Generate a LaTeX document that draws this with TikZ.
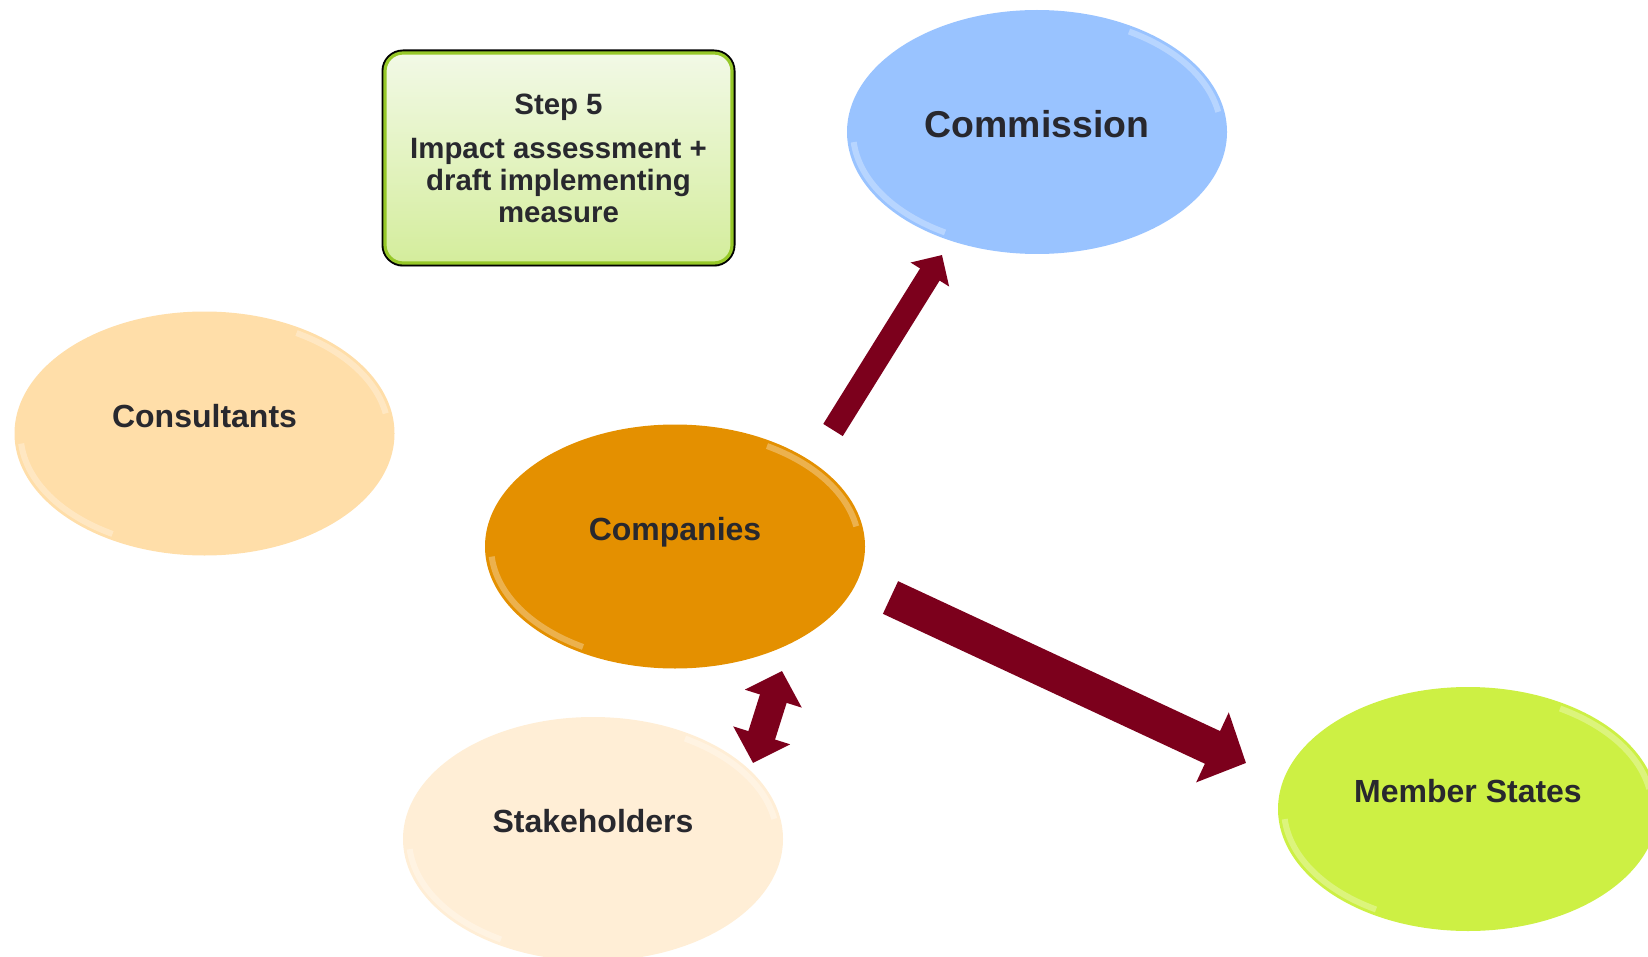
\documentclass[tikz,border=0pt]{standalone}
\usepackage{fontspec}
\setmainfont{Liberation Sans}
\usepackage{tikz}
\usetikzlibrary{shapes.geometric,arrows.meta,shadows,calc}
\definecolor{arrowred}{RGB}{124,0,28}
\definecolor{txtgray}{RGB}{40,40,46}
\definecolor{consfill}{RGB}{255,222,169}
\definecolor{compfill}{RGB}{228,144,0}
\definecolor{commfill}{RGB}{153,195,255}
\definecolor{stakefill}{RGB}{255,238,214}
\definecolor{msfill}{RGB}{205,240,68}
\definecolor{steptop}{RGB}{242,249,230}
\definecolor{stepbot}{RGB}{212,237,156}
\definecolor{steprim}{RGB}{150,200,40}
\tikzset{myellipse/.style={ellipse,fill=#1,minimum width=190pt,minimum height=122pt,inner sep=0pt,
path picture={
\draw[white,opacity=.3,line width=3pt] ($(path picture bounding box.center)+(185:92pt and 58pt)$) arc[start angle=185,end angle=240,x radius=92pt,y radius=58pt];
\draw[white,opacity=.3,line width=3pt] ($(path picture bounding box.center)+(10:92pt and 58pt)$) arc[start angle=10,end angle=60,x radius=92pt,y radius=58pt];}},
mylabel/.style={font=\fontsize{16}{19}\selectfont\bfseries,text=txtgray,text height=11.6pt,text depth=0pt,yshift=9pt},
mystep/.style={rectangle,rounded corners=9pt,minimum width=173.5pt,minimum height=105pt,
drop shadow={shadow xshift=0pt,shadow yshift=-2pt,opacity=.3},preaction={draw=black,line width=3.5pt},
top color=steptop,bottom color=stepbot,draw=steprim,line width=1.6pt,
align=center,font=\fontsize{14.7}{16}\selectfont\bfseries,text=txtgray},
myarrow/.style={draw=arrowred,line width=#1}}

\begin{document}
\begin{tikzpicture}[x=0.5pt,y=-0.5pt]
\useasboundingbox (0,0) rectangle (1648,957);
\node[myellipse=consfill,label={[mylabel]center:Consultants}] (cons) at (204.5,433.5) {};
\node[myellipse=compfill,label={[mylabel]center:Companies}] (comp) at (675,546.5) {};
\node[myellipse=commfill,label={[mylabel,font=\fontsize{18.7}{22}\selectfont\bfseries,text height=13.5pt,yshift=-5.25pt]center:Commission}] (comm) at (1037,132) {};
\node[myellipse=stakefill,label={[mylabel]center:Stakeholders}] (stake) at (593,839) {};
\node[myellipse=msfill,label={[mylabel]center:Member States}] (ms) at (1468,809) {};
\node[mystep] (step) at (558.5,158) {Step 5\\[6pt]Impact assessment +\\draft implementing\\measure};
\coordinate (up1) at (833,430);
\coordinate (up2) at (942,255);
\coordinate (ms1) at (890.5,597.5);
\coordinate (ms2) at (1246,763);
\coordinate (st1) at (753,763);
\coordinate (st2) at (782,671);
\draw[myarrow=11.5pt,-{Triangle[length=11.5pt,width=22pt]}] (up1) -- (up2);
\draw[myarrow=18pt,-{Triangle[length=18.5pt,width=37.5pt]}] (ms1) -- (ms2);
\draw[myarrow=14pt,{Triangle[length=14.5pt,width=29pt]}-{Triangle[length=14.5pt,width=29pt]}] (st1) -- (st2);
\end{tikzpicture}
\end{document}
